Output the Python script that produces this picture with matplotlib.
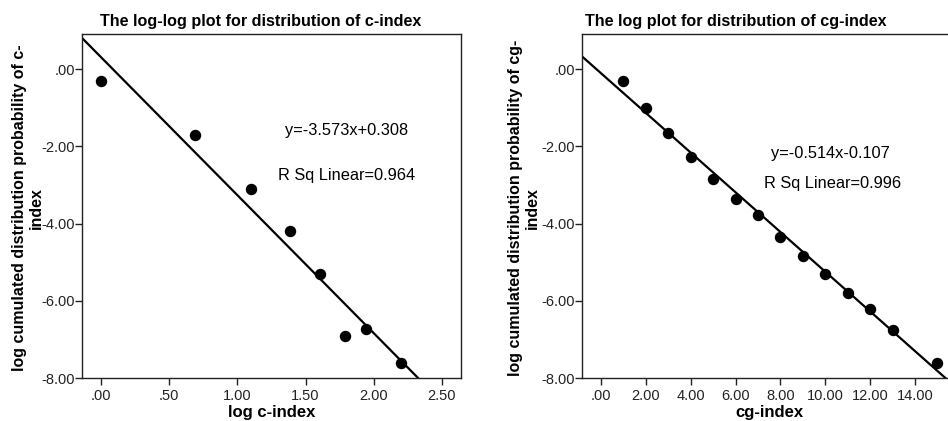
import matplotlib
matplotlib.use("Agg")
import matplotlib.pyplot as plt
import numpy as np

plt.rcParams['font.family'] = ['Liberation Sans', 'DejaVu Sans']

# Left panel data (log-log)
c_log_x = [0.0, 0.693, 1.099, 1.386, 1.609, 1.792, 1.946, 2.197]
c_log_y = [-0.31, -1.71, -3.10, -4.20, -5.30, -6.91, -6.74, -7.60]
c_slope, c_intercept = -3.573, 0.308
c_eq = "y=-3.573x+0.308"
c_r2 = "R Sq Linear=0.964"
c_xticks = [0.0, 0.5, 1.0, 1.5, 2.0, 2.5]
c_xticklabels = [".00", ".50", "1.00", "1.50", "2.00", "2.50"]

# Right panel data (log)
cg_x = [1, 2, 3, 4, 5, 6, 7, 8, 9, 10, 11, 12, 13, 15]
cg_y = [-0.31, -1.02, -1.65, -2.27, -2.86, -3.36, -3.78, -4.36, -4.85,
        -5.31, -5.81, -6.22, -6.75, -7.60]
cg_slope, cg_intercept = -0.514, -0.107
cg_eq = "y=-0.514x-0.107"
cg_r2 = "R Sq Linear=0.996"
cg_xticks = [0, 2, 4, 6, 8, 10, 12, 14]
cg_xticklabels = [".00", "2.00", "4.00", "6.00", "8.00", "10.00", "12.00", "14.00"]

yticks = [0, -2, -4, -6, -8]
yticklabels = [".00", "-2.00", "-4.00", "-6.00", "-8.00"]

W, H = 948, 421
fig = plt.figure(figsize=(W / 100, H / 100), dpi=100)

def px(x0, y0, x1, y1):
    return [x0 / W, 1 - y1 / H, (x1 - x0) / W, (y1 - y0) / H]

def style(ax, xticks, xlabels):
    for s in ax.spines.values():
        s.set_linewidth(1.0)
        s.set_color('#222222')
    ax.set_yticks(yticks)
    ax.set_yticklabels(yticklabels)
    ax.set_xticks(xticks)
    ax.set_xticklabels(xlabels)
    ax.tick_params(axis='both', direction='out', length=5, width=1.0,
                   labelsize=10.5, colors='#222222')
    ax.tick_params(axis='y', pad=0)
    ax.tick_params(axis='x', pad=3)
    ax.set_ylim(-8.0, 0.907)

# Left
ax1 = fig.add_axes(px(82, 34, 461, 378))
ax1.set_xlim(-0.139, 2.64)
style(ax1, c_xticks, c_xticklabels)
xl = np.array(ax1.get_xlim())
ax1.plot(xl, c_slope * xl + c_intercept, color='black', lw=1.6)
ax1.scatter(c_log_x, c_log_y, s=52, color='black', zorder=3)
ax1.text(0.699, 0.706, c_eq, transform=ax1.transAxes, ha='center', va='baseline', fontsize=11.8)
ax1.text(0.699, 0.576, c_r2, transform=ax1.transAxes, ha='center', va='baseline', fontsize=11.8)

# Right
ax2 = fig.add_axes(px(582.3, 34, 952, 378))
ax2.set_xlim(-0.83, 15.65)
style(ax2, cg_xticks, cg_xticklabels)
xr = np.array(ax2.get_xlim())
ax2.plot(xr, cg_slope * xr + cg_intercept, color='black', lw=1.6)
ax2.scatter(cg_x, cg_y, s=52, color='black', zorder=3, clip_on=False)
ax2.text(0.670, 0.640, cg_eq, transform=ax2.transAxes, ha='center', va='baseline', fontsize=11.8)
ax2.text(0.678, 0.552, cg_r2, transform=ax2.transAxes, ha='center', va='baseline', fontsize=11.8)

# Y labels
fig.text(28 / W, 1 - 208 / H, "log cumulated distribution probability of c-\nindex",
         rotation=90, ha='center', va='center', fontsize=11.5, fontweight='bold',
         linespacing=1.15, multialignment='center')
fig.text(524 / W, 1 - 208 / H, "log cumulated distribution probability of cg-\nindex",
         rotation=90, ha='center', va='center', fontsize=11.5, fontweight='bold',
         linespacing=1.1, multialignment='center')

# Titles
fig.text(261 / W, 1 - 26 / H, "The log-log plot for distribution of c-index",
         ha='center', va='baseline', fontsize=11.6, fontweight='bold')
fig.text(736 / W, 1 - 26 / H, "The log plot for distribution of cg-index",
         ha='center', va='baseline', fontsize=11.6, fontweight='bold')

# X labels
fig.text(271.5 / W, 1 - 417 / H, "log c-index", ha='center', va='baseline',
         fontsize=12, fontweight='bold')
fig.text(769 / W, 1 - 417 / H, "cg-index", ha='center', va='baseline',
         fontsize=12, fontweight='bold')

fig.savefig("out.png", dpi=100)
